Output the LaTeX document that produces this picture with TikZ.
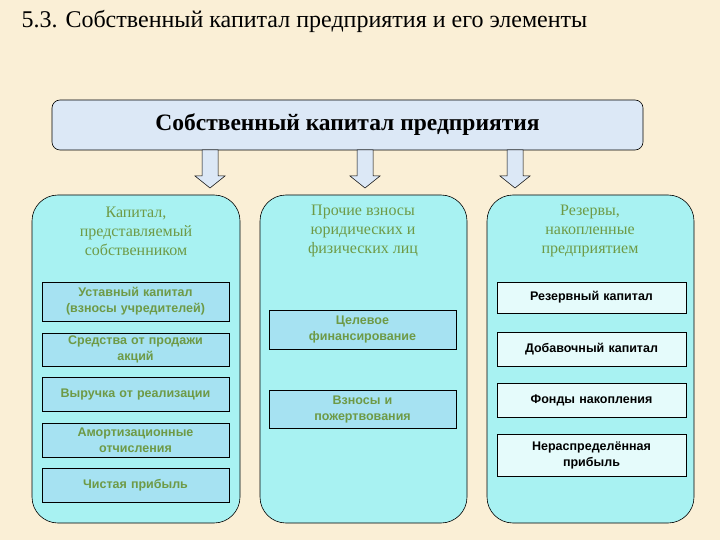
\documentclass[tikz,border=0pt]{standalone}
\usepackage{fontspec}
\setmainfont{Liberation Serif}
\newfontfamily\boxfont{Liberation Sans}
\definecolor{bg}{HTML}{FAEFD6}
\definecolor{topf}{HTML}{DCE8F6}
\definecolor{colf}{HTML}{A8F2F2}
\definecolor{boxf}{HTML}{A6E2F2}
\definecolor{grn}{HTML}{6E9A46}
\tikzset{
  col/.style={draw=black, fill=colf, rounded corners=26pt, line width=0.6pt},
  gbox/.style={draw=black, fill=boxf, line width=0.6pt, minimum width=187pt, text width=184pt, align=center, font=\boxfont\bfseries\fontsize{12.5}{16}\selectfont, text=grn, inner sep=1pt},
  wbox/.style={draw=black, fill=white!70!colf, line width=0.6pt, minimum width=189pt, text width=184pt, align=center, font=\boxfont\bfseries\fontsize{12.5}{16}\selectfont, text=black, inner sep=1pt},
  head/.style={align=center, text=grn, font=\fontsize{16}{19}\selectfont},
  barrow/.style={draw=black, fill=topf, line width=0.5pt}
}
\newcommand{\blockarrow}[1]{\draw[barrow] (#1-8,150) -- (#1+8,150) -- (#1+8,176) -- (#1+15,176) -- (#1,188) -- (#1-15,176) -- (#1-8,176) -- cycle;}
\begin{document}
\begin{tikzpicture}[x=1pt,y=-1pt]
\fill[bg] (0,0) rectangle (720,540);
\useasboundingbox (0,0) rectangle (720,540);
\node[anchor=west, font=\fontsize{24}{26}\selectfont] (title) at (18,21) {5.3. Собственный капитал предприятия и его элементы};
\node[draw=black, fill=topf, rounded corners=8pt, minimum width=591pt, minimum height=50pt, line width=0.6pt, font=\bfseries\fontsize{23.5}{26}\selectfont] (top) at (347.5,125) {Собственный капитал предприятия};
\blockarrow{210}
\blockarrow{365}
\blockarrow{515}
\draw[col] (32,195) rectangle (240,523);
\draw[col] (260,195) rectangle (467,523);
\draw[col] (487,195) rectangle (694,523);
\node[head] (h1) at (136,231) {Капитал,\\представляемый\\собственником};
\node[head] (h2) at (363,231) {Прочие взносы\\юридических и\\физических лиц};
\node[head] (h3) at (590,231) {Резервы,\\накопленные\\предприятием};
\node[gbox, minimum height=39pt] (l1) at (135.5,301.5) {Уставный капитал\\(взносы учредителей)};
\node[gbox, minimum height=33pt] (l2) at (135.5,349.5) {Средства от продажи\\акций};
\node[gbox, minimum height=34pt] (l3) at (135.5,394) {Выручка от реализации};
\node[gbox, minimum height=34pt] (l4) at (135.5,440) {Амортизационные\\отчисления};
\node[gbox, minimum height=34pt] (l5) at (135.5,485) {Чистая прибыль};
\node[gbox, minimum height=39pt] (m1) at (362.5,329.5) {Целевое\\финансирование};
\node[gbox, minimum height=38pt] (m2) at (362.5,409) {Взносы и\\пожертвования};
\node[wbox, minimum height=31pt] (r1) at (591.5,297.5) {Резервный капитал};
\node[wbox, minimum height=34pt] (r2) at (591.5,349) {Добавочный капитал};
\node[wbox, minimum height=34pt] (r3) at (591.5,400) {Фонды накопления};
\node[wbox, minimum height=42pt] (r4) at (591.5,455) {Нераспределённая\\прибыль};
\end{tikzpicture}
\end{document}
